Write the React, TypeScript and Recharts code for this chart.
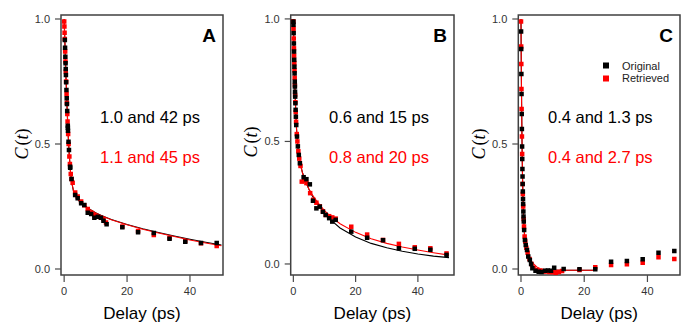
import { ComposedChart, Line, Scatter, XAxis, YAxis, ReferenceArea } from 'recharts'

type Pt = { t: number; c: number }
const zip = (t: number[], c: number[]): Pt[] => t.map((v, i) => ({ t: v, c: c[i] }))

// ---- panel A ----
const aOrigT = [0.22, 0.29, 0.38, 0.45, 0.5, 0.56, 0.64, 0.73, 0.82, 0.89, 0.97, 1.16, 1.18, 1.22, 1.39, 1.53, 1.9, 1.92, 2.35, 3.5, 4.3, 5.4, 6.4, 7.5, 8.6, 9.6, 10.7, 11.7, 12.5, 13.5, 18.5, 23.5, 28.5, 33.5, 38.5, 43.5, 48.5]
const aOrigC = [0.916, 0.885, 0.849, 0.823, 0.8, 0.776, 0.747, 0.716, 0.683, 0.66, 0.632, 0.573, 0.565, 0.553, 0.509, 0.476, 0.409, 0.405, 0.36, 0.296, 0.283, 0.263, 0.256, 0.225, 0.22, 0.205, 0.209, 0.205, 0.193, 0.179, 0.167, 0.147, 0.144, 0.121, 0.109, 0.104, 0.104]
const aRetT = [0.02, 0.08, 0.14, 0.2, 0.33, 0.42, 0.52, 0.62, 0.77, 0.87, 1.0, 1.09, 1.27, 1.42, 1.66, 1.83, 2.1, 2.35, 2.7, 3.5, 4.3, 5.4, 6.4, 7.5, 8.6, 9.6, 10.7, 11.7, 12.5, 13.3, 18.5, 23.5, 28.5, 33.5, 38.5, 43.5, 48.5]
const aRetC = [0.99, 0.97, 0.945, 0.92, 0.87, 0.83, 0.79, 0.75, 0.7, 0.665, 0.62, 0.59, 0.54, 0.5, 0.45, 0.42, 0.38, 0.36, 0.345, 0.306, 0.29, 0.27, 0.255, 0.24, 0.225, 0.215, 0.21, 0.205, 0.2, 0.186, 0.17, 0.152, 0.136, 0.124, 0.112, 0.103, 0.092]
const aFitT = [0, 0.2, 0.4, 0.6, 0.8, 1.0, 1.3, 1.6, 2.0, 2.5, 3, 4, 5, 6, 8, 10, 12, 15, 20, 25, 30, 35, 40, 45, 50]
const aFitOrigC = [1.0, 0.92, 0.84, 0.76, 0.69, 0.62, 0.53, 0.46, 0.39, 0.34, 0.31, 0.285, 0.268, 0.258, 0.24, 0.225, 0.213, 0.198, 0.178, 0.161, 0.146, 0.132, 0.119, 0.107, 0.096]
const aFitRetC = [1.0, 0.925, 0.845, 0.765, 0.695, 0.625, 0.535, 0.465, 0.392, 0.342, 0.312, 0.286, 0.268, 0.257, 0.239, 0.224, 0.212, 0.197, 0.177, 0.159, 0.144, 0.13, 0.116, 0.104, 0.093]

// ---- panel B ----
const bOrigT = [0.02, 0.04, 0.1, 0.17, 0.22, 0.28, 0.34, 0.4, 0.46, 0.5, 0.54, 0.59, 0.66, 0.73, 0.81, 0.93, 1.18, 1.45, 1.75, 2.1, 3.3, 4.2, 5.3, 6.3, 7.4, 8.5, 9.5, 10.4, 11.5, 12.5, 13.6, 18.6, 23.7, 28.8, 33.9, 39, 44, 49.2]
const bOrigC = [0.989, 0.976, 0.942, 0.9, 0.867, 0.833, 0.805, 0.778, 0.744, 0.724, 0.703, 0.683, 0.656, 0.629, 0.601, 0.567, 0.52, 0.48, 0.445, 0.411, 0.354, 0.346, 0.325, 0.258, 0.227, 0.234, 0.213, 0.2, 0.187, 0.173, 0.18, 0.132, 0.107, 0.097, 0.064, 0.062, 0.058, 0.037]
const bRetT = [0.0, 0.07, 0.13, 0.2, 0.25, 0.31, 0.37, 0.43, 0.49, 0.57, 0.65, 0.76, 0.88, 1.1, 1.3, 1.6, 1.9, 2.3, 2.7, 3.5, 4.2, 5.4, 6.4, 7.4, 8.5, 9.5, 10.4, 11.5, 12.5, 13.6, 18.6, 23.7, 28.8, 33.9, 39, 44, 49.2]
const bRetC = [0.99, 0.96, 0.92, 0.88, 0.85, 0.82, 0.79, 0.76, 0.73, 0.69, 0.66, 0.62, 0.58, 0.53, 0.5, 0.46, 0.43, 0.4, 0.336, 0.34, 0.33, 0.289, 0.262, 0.25, 0.235, 0.215, 0.2, 0.195, 0.19, 0.185, 0.152, 0.12, 0.098, 0.082, 0.068, 0.064, 0.043]
const bFitT = [0, 0.1, 0.2, 0.3, 0.4, 0.5, 0.6, 0.8, 1.0, 1.3, 1.6, 2.0, 2.5, 3, 4, 5, 6, 8, 10, 12, 15, 20, 25, 30, 35, 40, 45, 50]
const bFitOrigC = [1.0, 0.94, 0.88, 0.82, 0.77, 0.72, 0.68, 0.61, 0.555, 0.5, 0.46, 0.425, 0.395, 0.37, 0.335, 0.305, 0.28, 0.24, 0.207, 0.18, 0.147, 0.11, 0.084, 0.066, 0.052, 0.041, 0.032, 0.026]
const bFitRetC = [1.0, 0.945, 0.89, 0.83, 0.78, 0.73, 0.69, 0.615, 0.56, 0.5, 0.46, 0.425, 0.393, 0.368, 0.333, 0.306, 0.284, 0.248, 0.218, 0.194, 0.164, 0.129, 0.103, 0.084, 0.069, 0.057, 0.046, 0.036]

// ---- panel C ----
const cOrigT = [0.03, 0.07, 0.12, 0.17, 0.23, 0.28, 0.35, 0.4, 0.45, 0.49, 0.53, 0.58, 0.64, 0.68, 0.75, 0.8, 0.88, 1.0, 1.25, 1.5, 1.9, 2.3, 2.8, 3.2, 3.6, 4.6, 5.6, 6.5, 7.6, 8.5, 9.5, 10.5, 13.5, 18.5, 23.5, 28.5, 33.5, 38.5, 43.5, 48.5]
const cOrigC = [0.95, 0.88, 0.78, 0.7, 0.62, 0.56, 0.49, 0.44, 0.4, 0.37, 0.34, 0.31, 0.28, 0.26, 0.23, 0.21, 0.19, 0.156, 0.116, 0.096, 0.076, 0.05, 0.036, 0.02, 0.003, -0.007, -0.011, -0.012, -0.007, -0.006, -0.007, 0.005, 0.0, -0.001, -0.001, 0.029, 0.032, 0.039, 0.065, 0.072]
const cRetT = [0.01, 0.06, 0.1, 0.15, 0.2, 0.3, 0.37, 0.52, 0.58, 0.7, 0.85, 0.95, 1.15, 1.35, 1.7, 2.1, 2.7, 3.3, 4.0, 5.0, 6.0, 7.0, 8.0, 9.0, 10.0, 11.0, 12.0, 13.0, 18.5, 23.5, 28.5, 33.5, 38.5, 43.5, 48.5]
const cRetC = [0.99, 0.89, 0.82, 0.72, 0.64, 0.53, 0.46, 0.34, 0.3, 0.25, 0.2, 0.17, 0.13, 0.11, 0.085, 0.065, 0.04, 0.02, 0.005, -0.005, -0.008, -0.01, -0.01, -0.012, -0.013, -0.015, -0.012, -0.008, -0.004, 0.007, 0.016, 0.019, 0.025, 0.047, 0.04]
const cFitT = [0, 0.1, 0.2, 0.3, 0.4, 0.5, 0.6, 0.7, 0.8, 1.0, 1.2, 1.5, 1.8, 2.2, 2.6, 3.0, 3.5, 4, 5, 6, 8, 12, 18, 23.5]
const cFitOrigC = [1.0, 0.81, 0.66, 0.54, 0.44, 0.36, 0.3, 0.255, 0.215, 0.155, 0.12, 0.09, 0.07, 0.05, 0.035, 0.024, 0.013, 0.006, -0.001, -0.004, -0.005, -0.005, -0.005, -0.005]
const cFitRetC = [1.0, 0.8, 0.65, 0.53, 0.435, 0.36, 0.3, 0.258, 0.22, 0.16, 0.128, 0.1, 0.082, 0.064, 0.05, 0.04, 0.028, 0.02, 0.008, 0.002, -0.003, -0.005, -0.005, -0.005]

const xTicks = [0, 20, 40]
const yTicks = [0, 0.5, 1.0]
const legendItems = [
  { name: 'Original', color: '#000000' },
  { name: 'Retrieved', color: '#ff0000' },
]

const FRAME = '#404040'
const TICK = '#4a4a4a'

const square = (color: string) => (props: any) => {
  const { cx, cy } = props
  if (cx == null || cy == null) return <g />
  return <rect x={cx - 2.25} y={cy - 2.25} width={4.5} height={4.5} fill={color} />
}

interface PanelProps {
  left: number
  width: number
  plotLeft: number
  plotRight: number
  xDomain: [number, number]
  yDomain: [number, number]
  letter: string
  orig: Pt[]
  ret: Pt[]
  fitOrig: Pt[]
  fitRet: Pt[]
  noteOrig: string
  noteRet: string
  noteX: number
  yLabelX: number
  yLabelY: number
  showLegend?: boolean
}

const Panel = (p: PanelProps) => {
  const top = 15
  const bottom = 275
  const xh = 40
  const mid = (p.plotLeft + p.plotRight) / 2
  return (
    <div style={{ position: 'absolute', left: p.left, top: 0 }}>
      <ComposedChart
        width={p.width}
        height={322}
        margin={{ top, left: 0, right: p.width - p.plotRight, bottom: 322 - bottom - xh }}
      >
        <XAxis
          dataKey="t"
          type="number"
          domain={p.xDomain}
          allowDataOverflow
          ticks={xTicks}
          tickSize={7}
          tickMargin={5}
          height={xh}
          axisLine={false}
          tickLine={{ stroke: TICK, strokeWidth: 1.2 }}
          tick={{ fill: '#333', fontSize: 11 }}
        />
        <YAxis
          dataKey="c"
          type="number"
          domain={p.yDomain}
          allowDataOverflow
          ticks={yTicks}
          tickFormatter={(v: number) => v.toFixed(1)}
          tickSize={6}
          tickMargin={5}
          width={p.plotLeft}
          axisLine={false}
          tickLine={{ stroke: TICK, strokeWidth: 1.2 }}
          tick={{ fill: '#333', fontSize: 11 }}
        />
        <ReferenceArea
          x1={p.xDomain[0]}
          x2={p.xDomain[1]}
          y1={p.yDomain[0]}
          y2={p.yDomain[1]}
          fill="none"
          stroke={FRAME}
          strokeWidth={1.5}
        />
        <Line data={p.fitOrig} dataKey="c" type="linear" stroke="#000" strokeWidth={1.1} dot={false} isAnimationActive={false} />
        <Line data={p.fitRet} dataKey="c" type="linear" stroke="#ff0000" strokeWidth={1.1} dot={false} isAnimationActive={false} />
        <Scatter name="Retrieved" data={p.ret} dataKey="c" shape={square('#ff0000')} isAnimationActive={false} />
        <Scatter name="Original" data={p.orig} dataKey="c" shape={square('#000000')} isAnimationActive={false} />
        {p.showLegend && legendItems.map((it, i) => (
          <g key={it.name}>
            <rect x={143} y={62.5 + i * 13} width={6} height={6} fill={it.color} />
            <text x={162} y={69.5 + i * 12.5} fontSize={11} fill="#222">{it.name}</text>
          </g>
        ))}
        <text x={p.plotRight - 7} y={42} textAnchor="end" fontSize={19} fontWeight="bold" fill="#000">{p.letter}</text>
        <text x={p.noteX} y={123} fontSize={16.5} fill="#000">{p.noteOrig}</text>
        <text x={p.noteX} y={163} fontSize={16.5} fill="#ff0000">{p.noteRet}</text>
        <text x={mid} y={319} textAnchor="middle" fontSize={17} fill="#000">Delay (ps)</text>
        <text
          x={p.yLabelX}
          y={p.yLabelY}
          textAnchor="middle"
          transform={`rotate(-90 ${p.yLabelX} ${p.yLabelY})`}
          fontSize={18}
          fontFamily="'Liberation Serif', serif"
          fill="#000"
        >
          <tspan fontStyle="italic">C</tspan>
          <tspan dx={2}>(</tspan>
          <tspan fontStyle="italic">t</tspan>
          <tspan>)</tspan>
        </text>
      </ComposedChart>
    </div>
  )
}

const App = () => {
  return (
    <div style={{ position: 'absolute', left: 0, top: 0, width: 681, height: 322, background: '#fff', fontFamily: "'Liberation Sans', Arial, sans-serif" }}>
      <Panel
        left={0}
        width={230}
        plotLeft={61}
        plotRight={223}
        xDomain={[-1, 50.5]}
        yDomain={[-0.024, 1.016]}
        letter="A"
        orig={zip(aOrigT, aOrigC)}
        ret={zip(aRetT, aRetC)}
        fitOrig={zip(aFitT, aFitOrigC)}
        fitRet={zip(aFitT, aFitRetC)}
        noteOrig="1.0 and 42 ps"
        noteRet="1.1 and 45 ps"
        noteX={100}
        yLabelX={28}
        yLabelY={144}
      />
      <Panel
        left={230}
        width={230}
        plotLeft={60.7}
        plotRight={224}
        xDomain={[-0.85, 51.6]}
        yDomain={[-0.045, 1.016]}
        letter="B"
        orig={zip(bOrigT, bOrigC)}
        ret={zip(bRetT, bRetC)}
        fitOrig={zip(bFitT, bFitOrigC)}
        fitRet={zip(bFitT, bFitRetC)}
        noteOrig="0.6 and 15 ps"
        noteRet="0.8 and 20 ps"
        noteX={99}
        yLabelX={27}
        yLabelY={142}
      />
      <Panel
        left={460}
        width={221}
        plotLeft={58.3}
        plotRight={220}
        xDomain={[-0.85, 50.3]}
        yDomain={[-0.024, 1.016]}
        letter="C"
        orig={zip(cOrigT, cOrigC)}
        ret={zip(cRetT, cRetC)}
        fitOrig={zip(cFitT, cFitOrigC)}
        fitRet={zip(cFitT, cFitRetC)}
        noteOrig="0.4 and 1.3 ps"
        noteRet="0.4 and 2.7 ps"
        noteX={88}
        yLabelX={25}
        yLabelY={144}
        showLegend
      />
    </div>
  )
}

export default App
